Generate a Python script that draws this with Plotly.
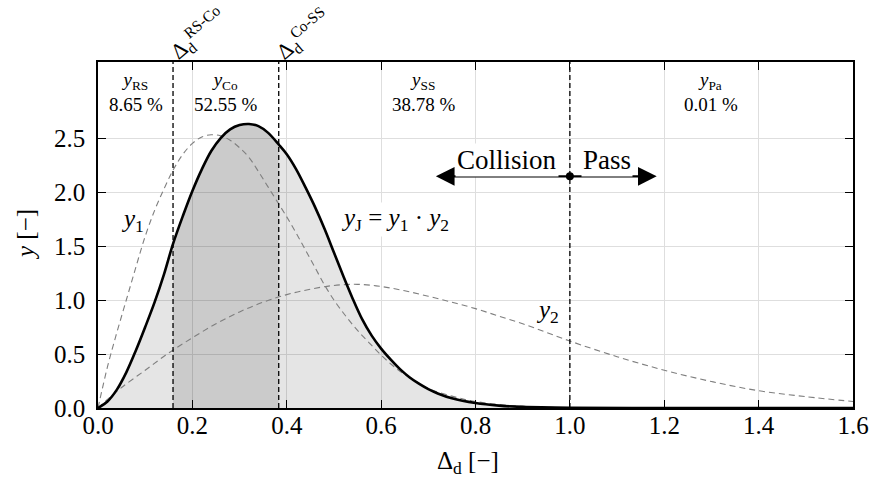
import plotly.graph_objects as go

# ---- data ----
x_j = [0, 0.02, 0.04, 0.06, 0.08, 0.10, 0.12, 0.14, 0.159, 0.18, 0.20, 0.22, 0.24, 0.26, 0.28,
       0.30, 0.32, 0.34, 0.36, 0.383, 0.40, 0.42, 0.44, 0.46, 0.48, 0.50, 0.52, 0.54, 0.56,
       0.58, 0.60, 0.62, 0.64, 0.66, 0.68, 0.70, 0.72, 0.75, 0.80, 0.85, 0.90, 1.0, 1.2, 1.4, 1.6]
y_joint = [0, 0.06, 0.17, 0.33, 0.53, 0.75, 0.98, 1.24, 1.52, 1.78, 2.01, 2.21, 2.38, 2.50, 2.58,
           2.62, 2.63, 2.61, 2.55, 2.44, 2.35, 2.21, 2.04, 1.86, 1.66, 1.44, 1.22, 1.01, 0.82,
           0.67, 0.55, 0.45, 0.36, 0.285, 0.225, 0.175, 0.135, 0.09, 0.046, 0.022, 0.01, 0.002, 0, 0, 0]

x_1 = [0, 0.02, 0.04, 0.06, 0.08, 0.10, 0.12, 0.14, 0.16, 0.18, 0.20, 0.22, 0.24, 0.26, 0.28,
       0.30, 0.32, 0.34, 0.36, 0.38, 0.40, 0.42, 0.44, 0.46, 0.48, 0.50, 0.52, 0.54, 0.56, 0.58,
       0.60, 0.62, 0.64, 0.66, 0.68, 0.70, 0.75, 0.80, 0.90, 1.0, 1.2, 1.6]
y_1 = [0, 0.38, 0.70, 1.0, 1.30, 1.59, 1.83, 2.03, 2.21, 2.35, 2.45, 2.51, 2.53, 2.52, 2.48,
       2.41, 2.32, 2.19, 2.05, 1.91, 1.77, 1.62, 1.46, 1.30, 1.14, 1.00, 0.88, 0.77, 0.67, 0.58,
       0.49, 0.41, 0.34, 0.28, 0.23, 0.18, 0.11, 0.06, 0.015, 0.003, 0, 0]

x_2 = [0, 0.02, 0.05, 0.10, 0.15, 0.20, 0.25, 0.30, 0.35, 0.40, 0.45, 0.50, 0.55, 0.60, 0.65,
       0.70, 0.75, 0.80, 0.85, 0.90, 0.95, 1.0, 1.1, 1.2, 1.3, 1.4, 1.5, 1.6]
y_2 = [0, 0.08, 0.19, 0.35, 0.51, 0.65, 0.78, 0.89, 0.98, 1.05, 1.10, 1.135, 1.145, 1.125, 1.085,
       1.035, 0.98, 0.92, 0.85, 0.78, 0.70, 0.62, 0.475, 0.35, 0.245, 0.16, 0.105, 0.06]

boundaries = [0.159, 0.383, 1.0]
region_edges = [0.0, 0.159, 0.383, 1.0, 1.6]
region_names = ["RS", "Co", "SS", "Pa"]
region_pcts = ["8.65 %", "52.55 %", "38.78 %", "0.01 %"]
boundary_labels = ["RS-Co", "Co-SS"]

x_ticks = [0.0, 0.2, 0.4, 0.6, 0.8, 1.0, 1.2, 1.4, 1.6]
y_ticks = [0.0, 0.5, 1.0, 1.5, 2.0, 2.5]

arrow_y = 2.145
arrow_center = 1.0
arrow_left = 0.716
arrow_right = 1.184

FONT = "Liberation Serif"

fig = go.Figure()

# light fill under joint curve
fig.add_trace(go.Scatter(x=x_j, y=y_joint, mode="lines", fill="tozeroy",
                         fillcolor="rgba(0,0,0,0.10)",
                         line=dict(width=0, shape="spline", color="rgba(0,0,0,0)"),
                         hoverinfo="skip", showlegend=False))
# darker fill for Co region
sub_x = [x for x in x_j if boundaries[0] <= x <= boundaries[1]]
sub_y = [y for x, y in zip(x_j, y_joint) if boundaries[0] <= x <= boundaries[1]]
fig.add_trace(go.Scatter(x=sub_x, y=sub_y, mode="lines", fill="tozeroy",
                         fillcolor="rgba(0,0,0,0.11)",
                         line=dict(width=0, shape="spline", color="rgba(0,0,0,0)"),
                         hoverinfo="skip", showlegend=False))
# y1, y2 dashed
fig.add_trace(go.Scatter(x=x_1, y=y_1, mode="lines",
                         line=dict(color="#7f7f7f", width=1.1, dash="6px,4px", shape="spline"),
                         showlegend=False))
fig.add_trace(go.Scatter(x=x_2, y=y_2, mode="lines",
                         line=dict(color="#7f7f7f", width=1.1, dash="6px,4px", shape="spline"),
                         showlegend=False))
# joint curve
fig.add_trace(go.Scatter(x=x_j, y=y_joint, mode="lines",
                         line=dict(color="black", width=2.6, shape="spline"),
                         showlegend=False))

# vertical dashed boundaries
for b in boundaries:
    fig.add_shape(type="line", x0=b, x1=b, y0=0, y1=1, xref="x", yref="paper",
                  line=dict(color="black", width=1.3, dash="5px,3px"), layer="above")

# region labels
for i, (nm, pc) in enumerate(zip(region_names, region_pcts)):
    xc = (region_edges[i] + region_edges[i + 1]) / 2
    fig.add_annotation(x=xc, y=2.93, xref="x", yref="y", showarrow=False,
                       text=f"<i>y</i><sub>{nm}</sub><br>{pc}",
                       font=dict(family=FONT, size=19, color="black"), align="center")

# boundary labels above the plot
for b, lab in zip(boundaries[:2], boundary_labels):
    fig.add_annotation(x=b, y=1.0, xref="x", yref="paper", showarrow=False,
                       text=f"Δ<sub>d</sub><sup>{lab}</sup>", textangle=-40,
                       xanchor="left", yanchor="bottom", xshift=-12, yshift=-7,
                       font=dict(family=FONT, size=22, color="black"))

# curve labels
fig.add_annotation(x=0.074, y=1.74, showarrow=False, text="<i>y</i><sub>1</sub>",
                   font=dict(family=FONT, size=25, color="black"))
fig.add_annotation(x=0.952, y=0.89, showarrow=False, text="<i>y</i><sub>2</sub>",
                   font=dict(family=FONT, size=25, color="black"))
fig.add_annotation(x=0.63, y=1.75, showarrow=False,
                   text="<i>y</i><sub>J</sub> = <i>y</i><sub>1</sub> · <i>y</i><sub>2</sub>",
                   bgcolor="white", font=dict(family=FONT, size=25, color="black"))

# Collision / Pass arrows
for tip in (arrow_left, arrow_right):
    fig.add_annotation(x=tip, y=arrow_y, ax=arrow_center, ay=arrow_y, xref="x", yref="y",
                       axref="x", ayref="y", showarrow=True, text="",
                       arrowhead=2, arrowsize=1.7, arrowwidth=2.2, arrowcolor="black")
fig.add_trace(go.Scatter(x=[arrow_center], y=[arrow_y], mode="markers",
                         marker=dict(color="black", size=8), showlegend=False))
fig.add_annotation(x=0.867, y=2.30, showarrow=False, text="Collision", bgcolor="white",
                   font=dict(family=FONT, size=27, color="black"))
fig.add_annotation(x=1.079, y=2.30, showarrow=False, text="Pass", bgcolor="white",
                   font=dict(family=FONT, size=27, color="black"))

# axis titles
fig.add_annotation(x=0.5, y=0, xref="paper", yref="paper", yanchor="middle", yshift=-54,
                   xshift=-8, showarrow=False, text="Δ<sub>d</sub> [−]",
                   font=dict(family=FONT, size=25, color="black"))
fig.add_annotation(x=0, y=0.5, xref="paper", yref="paper", xanchor="center", xshift=-73,
                   textangle=-90, showarrow=False, text="<i>y</i> [−]",
                   font=dict(family=FONT, size=25, color="black"))

axis_common = dict(showline=True, linecolor="black", linewidth=1.5, mirror="ticks",
                   ticks="inside", ticklen=8, tickwidth=1.3, tickcolor="black",
                   showgrid=True, gridcolor="#dedede", gridwidth=1.3, zeroline=False,
                   automargin=False,
                   tickfont=dict(family=FONT, size=25, color="black"))
fig.update_xaxes(range=[0, 1.6], tickvals=x_ticks, ticktext=[f"{v:.1f}" for v in x_ticks],
                 ticklabelstandoff=-6, **axis_common)
fig.update_yaxes(range=[0, 3.204], tickvals=y_ticks, ticktext=[f"{v:.1f}" for v in y_ticks],
                 ticklabelstandoff=6, **axis_common)

fig.update_layout(width=874, height=481, margin=dict(l=98, r=21, t=62, b=73),
                  plot_bgcolor="white", paper_bgcolor="white",
                  font=dict(family=FONT, color="black"))

# remove the default page margin so the figure fills the window exactly
fig.write_html("out.html", config={"displayModeBar": False},
               post_script="document.body.style.margin='0';document.body.style.overflow='hidden';")
